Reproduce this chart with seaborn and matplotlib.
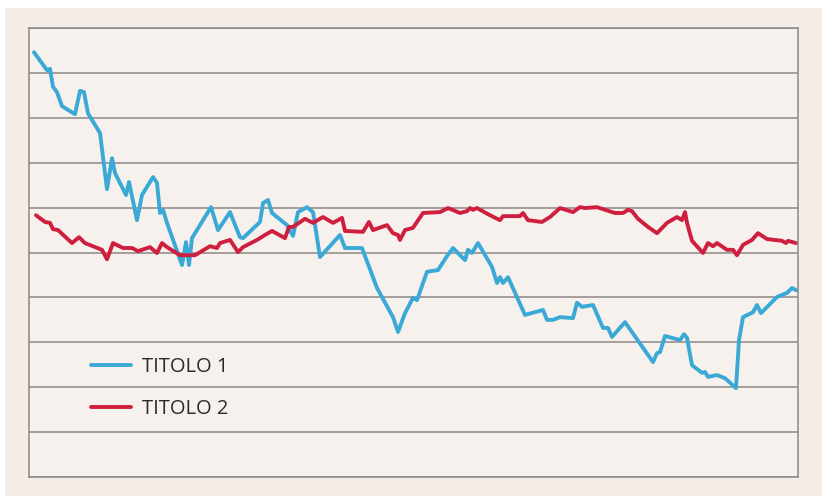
import numpy as np
import pandas as pd
import matplotlib
matplotlib.use("Agg")
import matplotlib.pyplot as plt
import seaborn as sns
from matplotlib.patches import Rectangle

# ---- data ----
t1_x = [5, 18, 21, 24, 28, 33, 46, 51, 55, 59, 71, 78, 83, 86, 97, 100, 108, 113, 124, 128,
        131, 134, 138, 153, 157, 160, 163, 182, 189, 201, 211, 214, 231, 234, 239, 243, 258, 264,
        269, 278, 284, 291, 311, 316, 333, 348, 364, 369, 376, 384, 388, 398, 409, 418, 424, 436,
        439, 443, 449, 463, 468, 471, 474, 479, 496, 514, 518, 524, 531, 544, 548, 553, 564, 574,
        579, 583, 596, 624, 628, 631, 636, 651, 655, 658, 663, 673, 676, 679, 688, 696, 707, 710,
        714, 724, 728, 732, 748, 758, 763, 767]
t1_y = [94.6, 90.6, 90.9, 86.9, 85.7, 82.6, 80.8, 86.0, 85.7, 81.0, 76.6, 64.1, 71.0, 67.7, 62.8,
        65.7, 57.2, 62.8, 66.8, 65.5, 58.8, 59.5, 56.6, 47.2, 52.3, 47.2, 53.2, 60.1, 55.0, 59.0,
        53.4, 53.2, 56.8, 61.0, 61.7, 58.8, 56.1, 53.7, 59.0, 60.1, 59.0, 49.0, 53.9, 51.0, 51.0,
        42.1, 35.6, 32.3, 36.5, 39.9, 39.4, 45.7, 46.1, 49.2, 51.0, 48.3, 50.6, 49.9, 52.1, 46.8,
        43.2, 44.5, 43.2, 44.5, 36.1, 37.2, 35.0, 35.0, 35.6, 35.4, 38.8, 37.9, 38.3, 33.2, 33.2,
        31.2, 34.5, 25.6, 27.6, 27.8, 31.4, 30.5, 31.8, 31.0, 24.9, 23.2, 23.4, 22.3, 22.7, 22.0,
        19.8, 30.5, 35.6, 36.7, 38.3, 36.5, 40.1, 41.0, 42.1, 41.6]

t2_x = [7, 16, 21, 24, 29, 43, 50, 56, 73, 78, 84, 94, 103, 109, 121, 128, 133, 138, 151, 166,
        181, 188, 191, 201, 209, 214, 228, 236, 243, 256, 260, 264, 276, 284, 294, 304, 313, 316,
        334, 340, 344, 358, 364, 369, 371, 376, 384, 394, 411, 419, 431, 438, 441, 444, 448, 461,
        471, 474, 491, 494, 499, 513, 521, 531, 544, 551, 556, 568, 583, 586, 594, 599, 603, 609,
        619, 628, 638, 648, 653, 656, 658, 663, 674, 679, 684, 688, 698, 704, 708, 714, 723, 729,
        738, 753, 757, 759, 767]
t2_y = [58.3, 56.8, 56.6, 55.2, 55.0, 52.1, 53.4, 52.1, 50.6, 48.5, 52.1, 51.0, 51.0, 50.3, 51.2,
        49.9, 52.1, 51.2, 49.4, 49.4, 51.4, 51.0, 52.1, 52.8, 50.1, 51.2, 52.8, 53.9, 54.8, 53.2,
        55.7, 55.7, 57.5, 56.6, 57.9, 56.6, 57.7, 54.8, 54.6, 56.8, 55.0, 56.1, 54.3, 53.9, 52.8,
        55.0, 55.5, 58.8, 59.0, 59.9, 58.8, 59.2, 59.9, 59.5, 59.9, 58.3, 57.2, 58.1, 58.1, 58.8,
        57.2, 56.8, 57.9, 59.9, 59.0, 60.1, 59.9, 60.1, 59.0, 58.8, 58.8, 59.5, 59.2, 57.5, 55.7,
        54.3, 56.6, 57.9, 57.2, 59.0, 56.6, 52.6, 49.9, 52.1, 51.4, 52.1, 50.6, 50.6, 49.4, 51.7,
        52.8, 54.3, 53.0, 52.6, 52.1, 52.6, 52.1]

series_names = ["TITOLO 1", "TITOLO 2"]
colors = ["#3aa9d6", "#cf1f3e"]
y_gridlines = [0, 10, 20, 30, 40, 50, 60, 70, 80, 90, 100]

df = pd.concat([
    pd.DataFrame({"x": t1_x, "y": t1_y, "serie": series_names[0]}),
    pd.DataFrame({"x": t2_x, "y": t2_y, "serie": series_names[1]}),
], ignore_index=True)

sns.set_style("white")
plt.rcParams["font.family"] = ["Open Sans", "DejaVu Sans"]

W, H = 827, 496
fig = plt.figure(figsize=(W / 100, H / 100), dpi=100, facecolor="white")

# paper background drawn in a full-figure axes behind everything
bg = fig.add_axes([0, 0, 1, 1], zorder=-10)
bg.set_xlim(0, W)
bg.set_ylim(H, 0)
bg.axis("off")
bg.add_patch(Rectangle((5, 8), 817, 488, facecolor="#f4ece7", edgecolor="none"))

ax = fig.add_axes([29 / W, 1 - 477 / H, 769 / W, 449 / H])
ax.set_facecolor("#f7f1ee")

sns.lineplot(data=df, x="x", y="y", hue="serie", palette=dict(zip(series_names, colors)),
             linewidth=2.8, estimator=None, sort=False, ax=ax, legend=True)

for yv in y_gridlines:
    ax.axhline(yv, color="#8c8886", linewidth=1.1, zorder=0)

ax.set_xlim(0, 769)
ax.set_ylim(0, 100)
ax.set_xticks([])
ax.set_yticks([])
ax.set_xlabel("")
ax.set_ylabel("")
for s in ax.spines.values():
    s.set_color("#8c8886")
    s.set_linewidth(1.1)

handles, labels = ax.get_legend_handles_labels()
leg = ax.legend(handles, labels, loc="upper left", bbox_to_anchor=(0.07, 0.285),
                frameon=False, fontsize=14.5, handlelength=2.0, handletextpad=0.55,
                labelspacing=1.1, borderaxespad=0)
for txt in leg.get_texts():
    txt.set_color("#2b2b2b")
for ln in leg.get_lines():
    ln.set_linewidth(2.8)

fig.savefig("out.png", dpi=100, facecolor=fig.get_facecolor())
